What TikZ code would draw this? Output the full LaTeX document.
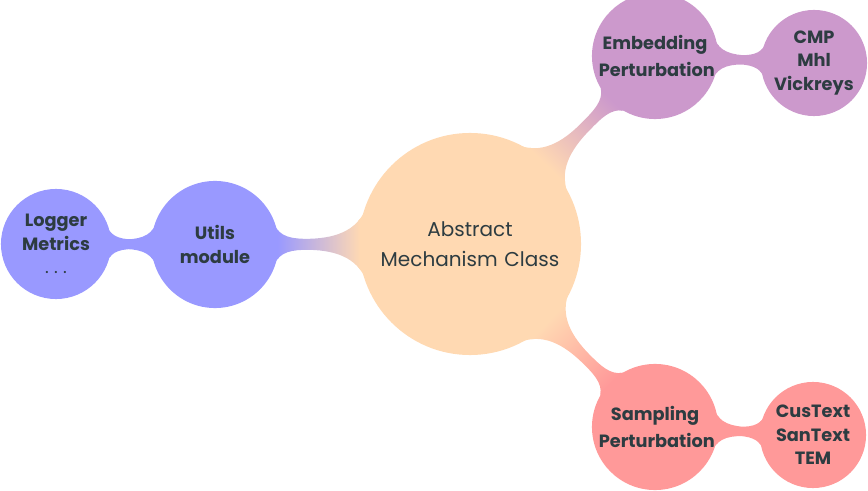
\documentclass[tikz,border=0pt]{standalone}
\usepackage{fontspec}
\setmainfont{Poppins}
\usetikzlibrary{mindmap}
\definecolor{txt}{RGB}{45,60,65}
\colorlet{rootc}{orange!30}
\colorlet{utilc}{blue!40}
\colorlet{embc}{violet!40}
\colorlet{samc}{red!40}
\begin{document}
\begin{tikzpicture}[x=0.02cm,y=0.02cm, mindmap,
  cnode/.style={concept, text=txt, inner sep=0pt, align=center, text width=1.6cm,
    font=\bfseries\fontsize{10.1}{13.4}\selectfont},
  widenode/.style={cnode, text width=2.25cm, font=\bfseries\fontsize{10.1}{15.3}\selectfont}]
\useasboundingbox (0,0) rectangle (868,490);
\node[concept, concept color=rootc, text=txt, inner sep=0pt, align=center, text width=3.8cm, minimum size=4.4cm,
  font=\fontsize{11.4}{17}\selectfont] (root) at (470,246) {Abstract\\Mechanism Class};
\node[cnode, concept color=utilc, minimum size=2.5cm] (utils) at (215,245.5) {Utils\\module};
\node[cnode, concept color=utilc, minimum size=2.16cm] (logger) at (56,246) {Logger\\Metrics\\{\mdseries .\hspace{0.3em}.\hspace{0.3em}.}};
\node[widenode, concept color=embc, minimum size=2.48cm] (emb) at (655,434) {Embedding\\Perturbation};
\node[cnode, concept color=embc, minimum size=2.08cm] (cmp) at (814,427) {CMP\\Mhl\\Vickreys};
\node[widenode, concept color=samc, minimum size=2.48cm] (sam) at (655,63) {Sampling\\Perturbation};
\node[cnode, concept color=samc, minimum size=2.08cm] (cus) at (813,55) {CusText\\SanText\\TEM};
\path (root) to[circle connection bar switch color=from (rootc) to (utilc)] (utils);
\path (utils) to[circle connection bar switch color=from (utilc) to (utilc)] (logger);
\path (root) to[circle connection bar switch color=from (rootc) to (embc)] (emb);
\path (emb) to[circle connection bar switch color=from (embc) to (embc)] (cmp);
\path (root) to[circle connection bar switch color=from (rootc) to (samc)] (sam);
\path (sam) to[circle connection bar switch color=from (samc) to (samc)] (cus);
\end{tikzpicture}
\end{document}
